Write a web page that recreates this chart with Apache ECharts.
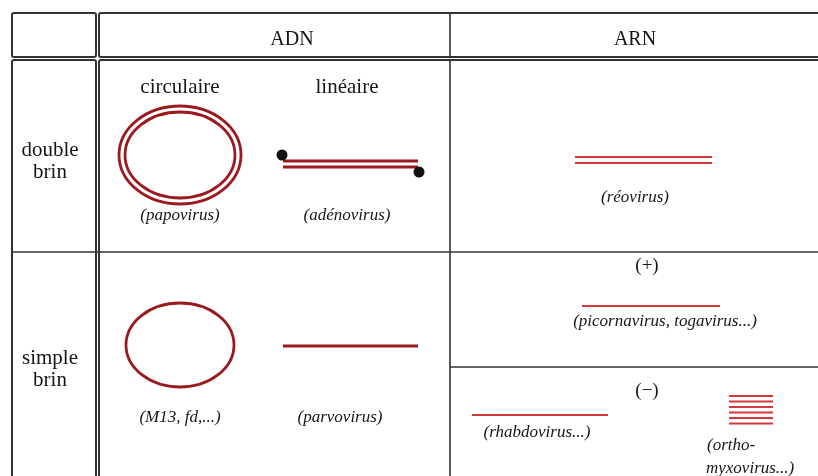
<!DOCTYPE html>
<html>
<head>
<meta charset="utf-8">
<script src="https://cdn.jsdelivr.net/npm/echarts@6/dist/echarts.min.js"></script>
<style>
html,body{margin:0;padding:0;background:#fff;}
#c{width:818px;height:476px;}
</style>
</head>
<body>
<div id="c"></div>
<script>
// ---- content ----
const columns = ['ADN', 'ARN'];
const columnPos = [[292, 40], [635, 40]];
const rows = ['double\nbrin', 'simple\nbrin'];
const rowPos = [[50, 161], [50, 369]];
const topologies = ['circulaire', 'linéaire'];
const topologyPos = [[180, 87], [347, 87]];
const polarity = ['(+)', '(\u2212)'];
const polarityPos = [[647, 266], [647, 391]];
const viruses = ['(papovirus)', '(adénovirus)', '(réovirus)', '(M13, fd,...)', '(parvovirus)',
  '(picornavirus, togavirus...)', '(rhabdovirus...)', '(ortho-', 'myxovirus...)'];
const virusPos = [[180, 216], [347, 216], [635, 198], [180, 418], [340, 418],
  [665, 322], [537, 433], [707, 446], [706, 469]];
const virusAlign = ['center', 'center', 'center', 'center', 'center', 'center', 'center', 'left', 'left'];

// table frame: boxes [x1,y1,x2,y2] and rules [x1,y1,x2,y2]
const frameBoxes = [[12, 13, 96, 57], [99, 13, 840, 57], [12, 60, 96, 500], [99, 60, 840, 500]];
const frameRules = [[450, 13, 450, 57], [450, 60, 450, 480], [12, 252, 840, 252], [450, 367, 840, 367]];

// DNA strands (dark red) and RNA strands (red) [x1,y,x2]
const dnaStrands = [[283, 161, 418], [283, 167, 418], [283, 346, 418]];
const rnaStrands = [[575, 157, 712], [575, 163, 712], [582, 306, 720], [472, 415, 608],
  [729, 396, 773], [729, 401.5, 773], [729, 407, 773], [729, 412.5, 773], [729, 418, 773], [729, 423.5, 773]];
// circular genomes [cx, cy, rx, ry]
const circles = [[180, 155, 61, 49], [180, 155, 55, 43], [180, 345, 54, 42]];
// terminal proteins of adenovirus
const ends = [[282, 155], [419, 172]];

const DARK = '#9a1a20';
const RED = '#d3383a';
const INK = '#161616';
const SERIF = '"Liberation Serif", "DejaVu Serif", serif';

function textSeries(texts, pos, font, aligns) {
  return {
    type: 'custom', silent: true, clip: false,
    data: pos.map(p => p),
    renderItem: function (params, api) {
      const pt = api.coord([api.value(0), api.value(1)]);
      return {
        type: 'text', x: pt[0], y: pt[1],
        style: {
          text: texts[params.dataIndex], font: font, fill: INK,
          align: aligns ? aligns[params.dataIndex] : 'center',
          verticalAlign: 'middle', lineHeight: 22
        }
      };
    }
  };
}

const chart = echarts.init(document.getElementById('c'), null, { renderer: 'canvas' });
chart.setOption({
  animation: false,
  backgroundColor: '#fff',
  grid: { left: 0, right: 0, top: 0, bottom: 0 },
  xAxis: { type: 'value', min: 0, max: 818, show: false },
  yAxis: { type: 'value', min: 0, max: 476, inverse: true, show: false },
  series: [
    {
      type: 'custom', silent: true, data: frameBoxes,
      renderItem: function (params, api) {
        const a = api.coord([api.value(0), api.value(1)]);
        const b = api.coord([api.value(2), api.value(3)]);
        return { type: 'rect', shape: { x: a[0], y: a[1], width: b[0] - a[0], height: b[1] - a[1], r: 2 },
          style: { fill: null, stroke: '#333', lineWidth: 2 } };
      }
    },
    {
      type: 'custom', silent: true, data: frameRules,
      renderItem: function (params, api) {
        const a = api.coord([api.value(0), api.value(1)]);
        const b = api.coord([api.value(2), api.value(3)]);
        return { type: 'line', shape: { x1: a[0], y1: a[1], x2: b[0], y2: b[1] },
          style: { stroke: '#333', lineWidth: 1.6 } };
      }
    },
    {
      type: 'custom', silent: true, data: circles,
      renderItem: function (params, api) {
        const c = api.coord([api.value(0), api.value(1)]);
        const s = api.size([api.value(2), api.value(3)]);
        return { type: 'ellipse', shape: { cx: c[0], cy: c[1], rx: s[0], ry: s[1] },
          style: { fill: null, stroke: DARK, lineWidth: 2.8 } };
      }
    },
    {
      type: 'custom', silent: true, data: dnaStrands,
      renderItem: function (params, api) {
        const a = api.coord([api.value(0), api.value(1)]);
        const b = api.coord([api.value(2), api.value(1)]);
        return { type: 'line', shape: { x1: a[0], y1: a[1], x2: b[0], y2: b[1] },
          style: { stroke: DARK, lineWidth: 2.8 } };
      }
    },
    {
      type: 'custom', silent: true, data: rnaStrands,
      renderItem: function (params, api) {
        const a = api.coord([api.value(0), api.value(1)]);
        const b = api.coord([api.value(2), api.value(1)]);
        return { type: 'line', shape: { x1: a[0], y1: a[1], x2: b[0], y2: b[1] },
          style: { stroke: RED, lineWidth: 2.2 } };
      }
    },
    {
      type: 'scatter', silent: true, data: ends, symbolSize: 11, z: 5,
      itemStyle: { color: '#111', opacity: 1 }
    },
    textSeries(columns, columnPos, '20px ' + SERIF),
    textSeries(rows, rowPos, '21px ' + SERIF),
    textSeries(topologies, topologyPos, '21px ' + SERIF),
    textSeries(polarity, polarityPos, '19px ' + SERIF),
    textSeries(viruses, virusPos, 'italic 17px ' + SERIF, virusAlign)
  ]
});
</script>
</body>
</html>
